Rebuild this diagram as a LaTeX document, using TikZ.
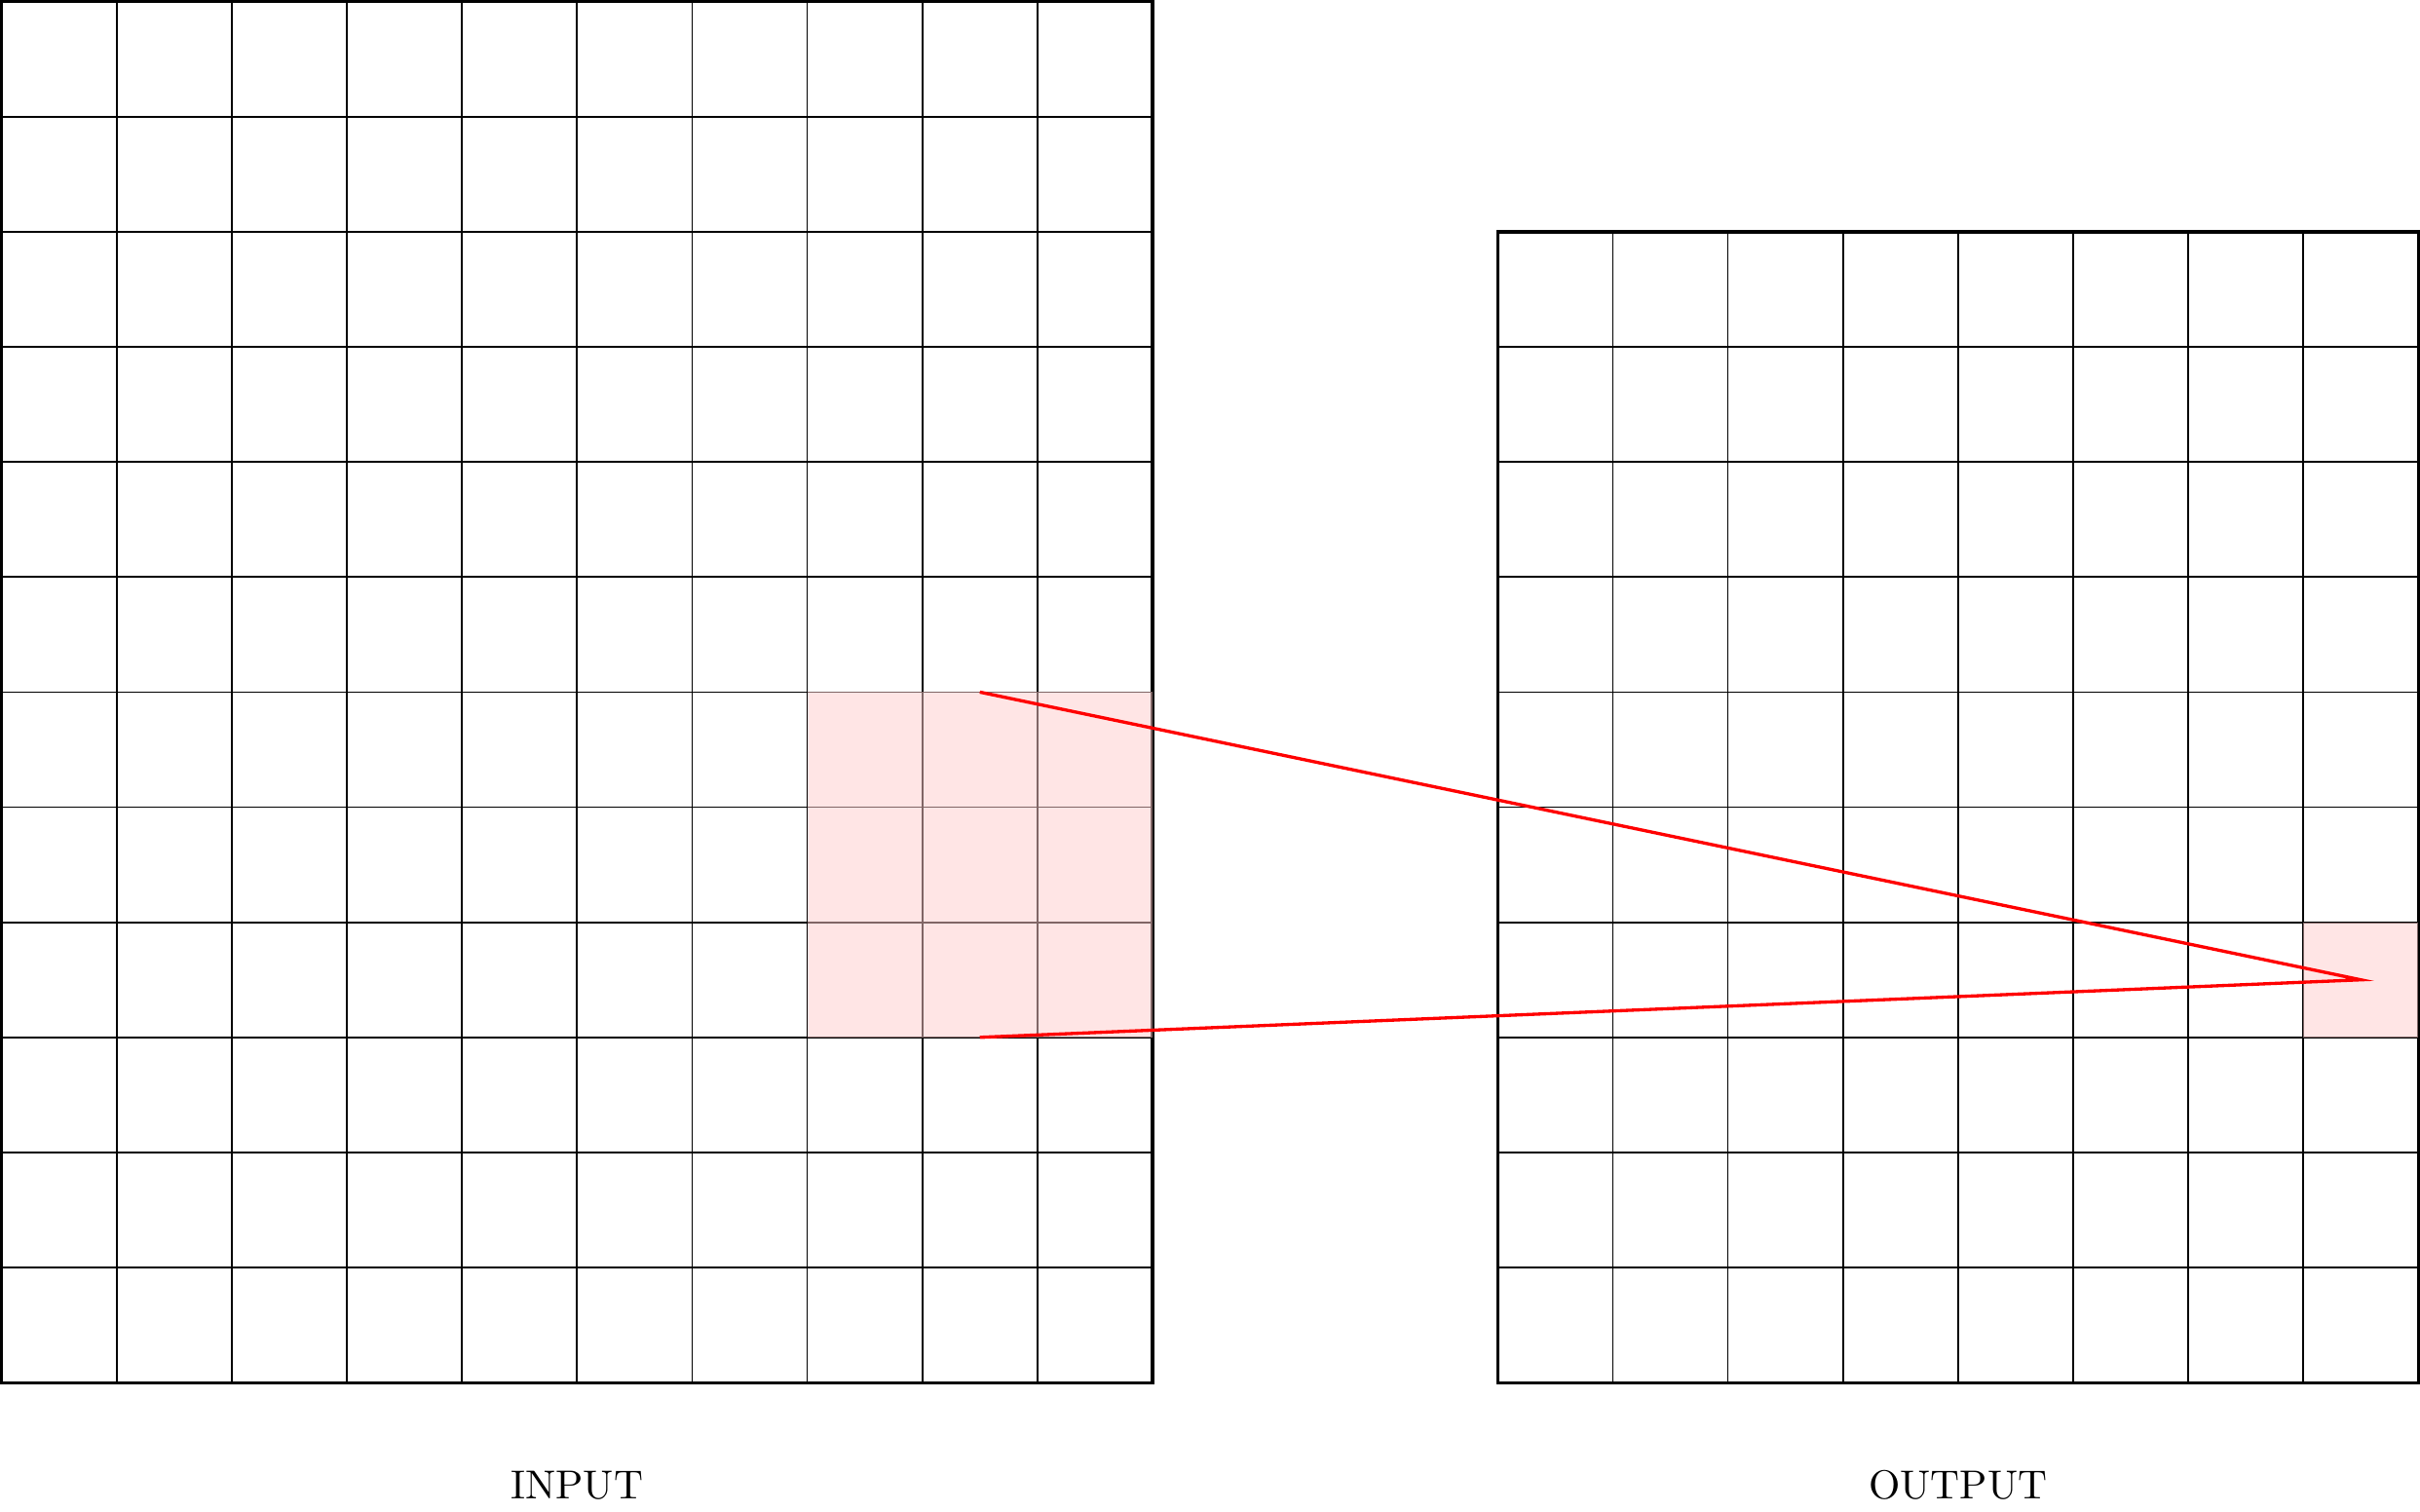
\documentclass[tikz,border=0pt]{standalone}
\begin{document}
\begin{tikzpicture}[
  gridline/.style={draw=black, line width=0.4pt},
  gridborder/.style={draw=black, line width=0.8pt},
  hilite/.style={fill=red!20, opacity=0.5},
  mapline/.style={draw=red, line width=0.8pt},
  caption/.style={font=\normalsize, inner sep=0pt}
]
\useasboundingbox (-0.014,-1.116) rectangle (21.014,12.014);
% input grid 10x12
\draw[gridline] (0,0) grid (10,12);
\draw[gridborder] (0,0) rectangle (10,12);
% output grid 8x10
\draw[gridline] (13,0) grid (21,10);
\draw[gridborder] (13,0) rectangle (21,10);
% highlights
\fill[hilite] (7,3) rectangle (10,6);
\fill[hilite] (20,3) rectangle (21,4);
% mapping lines
\coordinate (kt) at (8.5,6);
\coordinate (kb) at (8.5,3);
\coordinate (apex) at (20.5,3.5);
\draw[mapline] (kt) -- (apex) -- (kb);
% labels
\node[caption] (inlabel) at (5,-0.89) {INPUT};
\node[caption] (outlabel) at (17,-0.89) {OUTPUT};
\end{tikzpicture}
\end{document}
